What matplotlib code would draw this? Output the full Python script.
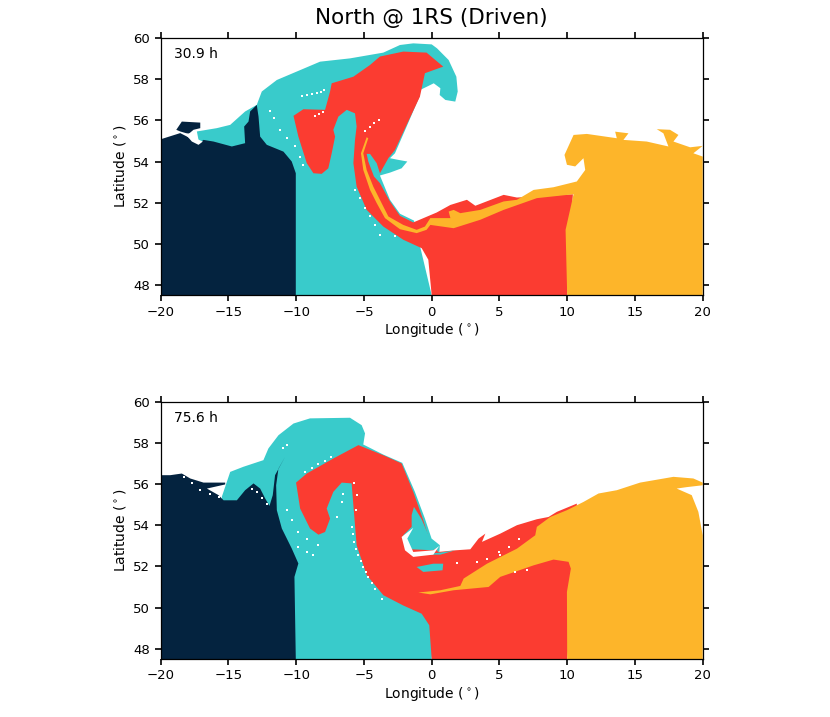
import matplotlib
matplotlib.use('Agg')
import matplotlib.pyplot as plt

NAVY = '#04233f'
TEAL = '#39cbcb'
RED = '#fb3c31'
YELLOW = '#fdb52a'

X_TICKS = [-20, -15, -10, -5, 0, 5, 10, 15, 20]
Y_TICKS = [48, 50, 52, 54, 56, 58, 60]

# Material boundaries as (longitude, latitude).
# Top panel, 30.9 h
teal_top = [(-17.33, 55.46), (-15.86, 55.62), (-14.87, 55.78), (-13.77, 56.43), (-12.91, 56.75),
            (-12.54, 57.40), (-11.43, 57.96), (-9.96, 58.37), (-8.24, 58.85), (-6.03, 59.01),
            (-3.57, 59.29), (-2.34, 59.66), (-1.36, 59.74), (0, 59.69), (0.39, 59.5),
            (1.25, 58.93), (1.82, 58.12), (1.92, 57.40), (1.74, 56.91), (1.01, 56.99),
            (0.59, 57.23), (0.64, 57.56), (0.15, 57.8), (-0.34, 57.64), (-0.84, 57.48),
            (-0.87, 57.2), (-1.85, 55.70), (-2.71, 54.40), (-3.08, 54.16), (-2.47, 54.08),
            (-1.80, 54.0), (-2.22, 53.67), (-3.08, 53.46), (-3.82, 53.32), (-3.08, 52.14),
            (-2.34, 51.46), (-1.31, 51.13), (0, 47.5), (-15, 47.5)]

red_top = [(-10.20, 56.22), (-9.47, 56.54), (-7.87, 56.51), (-7.50, 57.40), (-7.38, 57.80),
           (-5.78, 58.12), (-4.55, 58.69), (-3.82, 59.10), (-2.10, 59.34), (-0.38, 59.29),
           (0.85, 58.61), (-0.50, 58.29), (-0.87, 57.15), (-1.85, 55.78), (-2.71, 54.56),
           (-3.20, 54.16), (-3.82, 53.43), (-4.06, 53.92), (-4.55, 54.37), (-4.80, 54.37),
           (-4.68, 54.0), (-4.26, 53.27), (-3.82, 52.95), (-3.08, 52.06), (-2.34, 51.36),
           (-1.36, 51.04), (0.36, 51.52), (1.38, 51.89), (2.60, 52.14), (3.22, 51.85),
           (5.31, 52.38), (6.29, 52.25), (10.42, 52.41), (10, 47.5), (0, 47.5),
           (-0.25, 49.23), (-0.74, 49.79), (-2.10, 50.20), (-3.57, 50.84), (-4.80, 51.65),
           (-5.54, 52.78), (-5.78, 53.92), (-5.66, 55.05), (-5.54, 55.70), (-5.66, 56.34),
           (-6.27, 56.51), (-6.89, 56.18), (-7.26, 55.54), (-7.13, 55.21), (-7.38, 54.40),
           (-7.63, 53.67), (-8.12, 53.40), (-8.73, 53.43), (-9.22, 53.92), (-9.84, 55.21)]

yellow_top = [(20, 47.5), (20, 54.24), (19.31, 54.40), (20, 54.76), (19.07, 54.69), (17.84, 54.97),
              (18.21, 55.29), (17.59, 55.54), (16.61, 55.57), (17.10, 55.37), (17.47, 54.73),
              (15.87, 54.97), (14.15, 55.05), (14.52, 55.37), (13.54, 55.45), (13.66, 55.13),
              (11.45, 55.34), (10.47, 55.29), (9.80, 54.32), (9.98, 53.84), (10.59, 53.76),
              (11.20, 54.16), (11.33, 53.59), (10.71, 53.03), (8.99, 52.75), (7.52, 52.62),
              (6.29, 52.14), (5.31, 52.06), (3.59, 51.65), (2.11, 51.49), (1.62, 51.65),
              (1.25, 51.57), (1.38, 51.25), (-0.1, 51.25), (-0.50, 50.84), (-1.11, 50.68),
              (-2.10, 50.92), (-3.20, 51.33), (-3.82, 52.14), (-4.31, 52.78), (-4.80, 53.59),
              (-5.05, 54.40), (-4.68, 55.13), (-4.80, 55.18), (-5.22, 54.40), (-5.05, 53.59),
              (-4.55, 52.62), (-4.06, 51.98), (-3.45, 51.25), (-2.34, 50.71), (-1.11, 50.52),
              (-0.38, 50.68), (-0.1, 50.92), (1.62, 50.76), (3.59, 51.17), (5.31, 51.65),
              (7.76, 52.22), (10.47, 52.41), (9.88, 50.68), (10, 47.5)]

navy_top = [(-20, 47.5), (-10.03, 47.5), (-10.03, 53.43), (-10.33, 54.0), (-10.94, 54.48),
            (-12.17, 54.81), (-12.66, 55.21), (-12.78, 56.18), (-12.91, 56.75), (-13.40, 56.43),
            (-13.52, 55.94), (-13.84, 55.7), (-13.77, 54.89), (-14.75, 54.73), (-16.10, 54.97),
            (-16.84, 55.05), (-17.21, 54.86), (-17.82, 55.13), (-18.56, 55.38), (-20, 55.08)]

navy_blob_top = [(-18.85, 55.54), (-18.44, 55.94), (-17.08, 55.89), (-17.08, 55.62),
                 (-17.58, 55.54), (-17.94, 55.34), (-18.56, 55.46)]

gap_top = [(-18.19, 55.34), (-17.82, 55.37), (-17.45, 55.13), (-16.89, 54.97), (-17.21, 54.81),
           (-17.70, 54.97)]

specks_top = [(-9.59, 57.19), (-9.22, 57.24), (-8.85, 57.28), (-8.48, 57.35), (-8.19, 57.40),
              (-7.95, 57.45), (-11.97, 56.47), (-11.63, 56.10), (-11.19, 55.54), (-10.7, 55.13),
              (-10.08, 54.73), (-9.71, 54.24), (-9.52, 53.84), (-8.61, 56.22), (-8.31, 56.31),
              (-8.04, 56.41), (-5.66, 52.62), (-5.29, 52.22), (-4.92, 51.73), (-4.55, 51.33),
              (-4.18, 50.92), (-3.82, 50.44), (-4.92, 55.46), (-4.55, 55.70), (-4.26, 55.86),
              (-3.87, 56.02), (-2.71, 50.36)]

# Bottom panel, 75.6 h
teal_bottom = [(-15.49, 55.38), (-14.87, 56.59), (-13.89, 56.84), (-12.42, 57.16), (-12.05, 57.73),
               (-11.31, 58.37), (-10.2, 58.94), (-8.98, 59.19), (-6.03, 59.22), (-5.17, 58.86),
               (-4.92, 58.46), (-5.05, 57.92), (-3.57, 57.43), (-2.17, 57.03), (-1.24, 55.62),
               (-0.5, 54.32), (-0.01, 53.35), (0.6, 53.03), (0, 47.5), (-15, 47.5)]

red_bottom = [(-10.01, 56.07), (-9.22, 56.51), (-7.26, 57.24), (-5.41, 57.89), (-3.57, 57.40),
              (-2.22, 57.0), (-1.36, 55.62), (-0.62, 54.24), (-0.13, 53.19), (0.48, 52.7),
              (1.74, 52.78), (2.85, 52.83), (3.46, 53.35), (3.96, 53.59), (3.71, 53.19),
              (5.06, 53.59), (6.29, 54.0), (7.76, 54.29), (8.62, 54.4), (9.24, 54.65),
              (10.71, 55.05), (10.71, 52.22), (10, 47.5), (0, 47.5), (-0.18, 49.14),
              (-0.74, 49.70), (-2.10, 50.10), (-3.57, 50.60), (-4.80, 51.58), (-5.54, 53.03),
              (-5.78, 54.97), (-5.91, 56.03), (-6.64, 56.07), (-7.26, 55.62), (-7.75, 54.81),
              (-7.50, 54.32), (-7.87, 53.67), (-8.36, 53.54), (-8.98, 53.84), (-9.71, 54.81)]

yellow_bottom = [(20, 47.5), (20, 53.51), (19.68, 54.65), (19.19, 55.46), (18.08, 55.78),
                 (18.82, 55.85), (20, 55.94), (20, 56.07), (19.31, 56.27), (17.84, 56.35),
                 (15.38, 56.07), (13.66, 55.70), (12.31, 55.54), (11.2, 55.13), (9.98, 54.73),
                 (8.75, 54.40), (7.76, 53.92), (7.64, 53.51), (6.29, 52.86), (4.08, 52.13),
                 (2.36, 51.41), (2.11, 51.05), (0.64, 50.84), (-0.99, 50.73), (-0.1, 50.64),
                 (1.62, 50.84), (4.2, 51.0), (5.06, 51.49), (7.52, 52.05), (8.99, 52.33),
                 (10.1, 52.22), (10.27, 51.89), (9.98, 50.76), (10, 47.5)]

navy_bottom = [(-20, 47.5), (-10.03, 47.5), (-10.13, 51.49), (-9.84, 52.14), (-10.33, 52.87),
               (-11.06, 53.84), (-11.43, 54.73), (-11.48, 55.94), (-11.31, 56.75), (-10.82, 57.32),
               (-11.56, 56.43), (-11.73, 55.46), (-11.97, 54.94), (-12.29, 55.30), (-12.66, 55.78),
               (-13.15, 56.03), (-13.77, 55.70), (-14.38, 55.21), (-15.36, 55.21), (-15.73, 55.46),
               (-16.59, 55.78), (-15.24, 55.98), (-15.24, 56.07), (-16.84, 56.07), (-17.82, 56.27),
               (-18.44, 56.51), (-19.3, 56.43), (-20, 56.43)]

curl_bottom = [(-1.31, 54.89), (-0.74, 54.29), (-0.13, 53.35), (0.48, 53.0), (0.12, 52.78),
               (-1.48, 52.83), (-2.1, 53.51), (-1.48, 53.92), (-1.48, 54.49)]

strip_bottom = [(-1.11, 51.97), (0.12, 52.13), (0.85, 52.13), (0.80, 51.81), (-0.62, 51.73)]

sliver_bottom = [(-0.84, 52.57), (0.64, 52.67), (1.74, 52.78), (0.64, 52.57)]

rim_bottom = [(-1.36, 53.87), (-2.22, 53.43), (-1.97, 52.78), (-1.36, 52.46), (0.12, 52.57),
              (0.56, 52.99), (0.12, 52.78), (-1.36, 52.70), (-1.8, 53.35)]

specks_bottom = [(-9.34, 56.59), (-8.85, 56.79), (-8.36, 56.95), (-7.87, 57.13), (-7.43, 57.32),
                 (-5.73, 56.03), (-5.54, 55.46), (-5.59, 54.73), (-5.91, 53.92), (-5.8, 53.55),
                 (-5.73, 53.19), (-5.55, 52.85), (-5.41, 52.54), (-5.22, 52.25), (-5.04, 51.97),
                 (-4.85, 51.72), (-4.67, 51.49), (-4.42, 51.2), (-4.18, 50.92), (-3.69, 50.43),
                 (-10.7, 54.73), (-10.33, 54.24), (-9.84, 53.67), (-9.22, 53.35), (-8.36, 53.03),
                 (-9.84, 52.95), (-9.22, 52.70), (-8.73, 52.54), (-6.52, 55.54), (-6.64, 55.13),
                 (-6.96, 54.40), (-10.7, 57.89), (-10.94, 57.73), (-18.31, 56.35), (-17.7, 56.03),
                 (-17.08, 55.70), (-16.35, 55.54), (-15.73, 55.38), (-13.27, 55.78), (-12.91, 55.62),
                 (-12.54, 55.30), (-12.17, 55.05), (1.87, 52.14), (3.34, 52.22), (4.08, 52.38),
                 (4.94, 52.70), (5.68, 52.95), (6.41, 53.35), (5.06, 52.54), (6.17, 51.73),
                 (7.03, 51.81)]


def fill_poly(ax, points, color):
    lons, lats = zip(*points)
    ax.fill(lons, lats, color=color, linewidth=0)


def setup_axes(ax, label):
    ax.set_xlim(-20, 20)
    ax.set_ylim(47.5, 60)
    ax.set_xticks(X_TICKS)
    ax.set_yticks(Y_TICKS)
    ax.tick_params(direction='out', length=4.5, width=1.2, top=True, right=True, labelsize=9.5, pad=3)
    for spine in ax.spines.values():
        spine.set_linewidth(0.9)
    ax.set_xlabel(r'Longitude ($^\circ$)', fontsize=10, labelpad=2)
    ax.set_ylabel(r'Latitude ($^\circ$)', fontsize=10, labelpad=4)
    ax.text(-19.0, 59.2, label, fontsize=10, va='center')


def main():
    fig = plt.figure(figsize=(8.3, 7.17), dpi=100)
    ax_top = fig.add_axes([160.7 / 830, 1 - 295.3 / 717, 542 / 830, 257.3 / 717])
    ax_bottom = fig.add_axes([160.7 / 830, 1 - 659 / 717, 542 / 830, 257.3 / 717])

    for poly, color in [(teal_top, TEAL), (red_top, RED), (yellow_top, YELLOW), (navy_top, NAVY),
                        (navy_blob_top, NAVY), (gap_top, 'white')]:
        fill_poly(ax_top, poly, color)
    ax_top.scatter(*zip(*specks_top), s=2.5, marker='s', color='white', linewidths=0)
    setup_axes(ax_top, '30.9 h')

    for poly, color in [(teal_bottom, TEAL), (red_bottom, RED), (curl_bottom, TEAL),
                        (strip_bottom, TEAL), (sliver_bottom, TEAL), (rim_bottom, 'white'),
                        (yellow_bottom, YELLOW), (navy_bottom, NAVY)]:
        fill_poly(ax_bottom, poly, color)
    ax_bottom.scatter(*zip(*specks_bottom), s=3.5, marker='s', color='white', linewidths=0)
    setup_axes(ax_bottom, '75.6 h')

    fig.text(431 / 830, 1 - 18 / 717, 'North @ 1RS (Driven)', fontsize=15.5, ha='center', va='center')
    fig.savefig('out.png', dpi=100)


if __name__ == '__main__':
    main()
